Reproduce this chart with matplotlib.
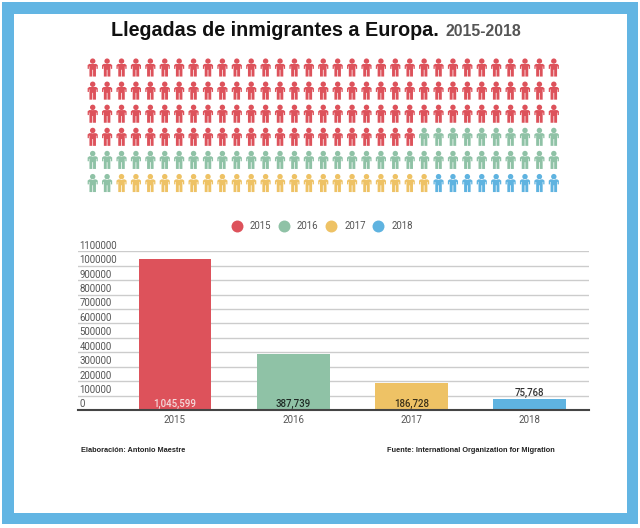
import matplotlib
matplotlib.use("Agg")
import matplotlib.pyplot as plt
import numpy as np
from matplotlib.lines import Line2D
from matplotlib.patches import Rectangle
from matplotlib.path import Path

years = ["2015", "2016", "2017", "2018"]
arrivals = [1045599, 387739, 186728, 75768]
arrival_labels = ["1,045,599", "387,739", "186,728", "75,768"]
people = [122, 45, 22, 9]
colors = ["#DD525B", "#8FC2A6", "#EEC265", "#5FB3E0"]
label_colors = ["#F4DADB", "#1F2B25", "#3A3018", "#333333"]
y_ticks = [0, 100000, 200000, 300000, 400000, 500000, 600000, 700000, 800000,
           900000, 1000000, 1100000]

W, H = 640, 528
fig = plt.figure(figsize=(W / 100, H / 100), dpi=100, facecolor="white")

# page layer in pixel coordinates
page = fig.add_axes([0, 0, 1, 1])
page.set_xlim(0, W)
page.set_ylim(H, 0)
page.axis("off")
page.add_patch(Rectangle((2, 2), 636, 522, fc="#62B5E3", ec="none"))
page.add_patch(Rectangle((14, 14), 613, 499, fc="white", ec="none"))

page.text(111, 31, "Llegadas de inmigrantes a Europa.", family="Liberation Sans",
          weight="bold", fontsize=14.25, color="#111111", va="center")
page.text(445, 31.5, "2015-2018", family="Liberation Sans", weight="bold",
          fontsize=11.4, color="#555555", va="center")
page.text(81, 451, "Elaboración: Antonio Maestre", family="Liberation Sans",
          weight="bold", fontsize=5.3, color="#222222", va="center")
page.text(387, 451, "Fuente: International Organization for Migration",
          family="Liberation Sans", weight="bold", fontsize=5.27, color="#222222",
          va="center")

# person marker
head = Path.unit_circle().transformed(
    matplotlib.transforms.Affine2D().scale(0.3).translate(0, 0.7))
body = Path([(-0.38, 0.4), (0.38, 0.4), (0.56, 0.26), (0.56, -0.15), (0.42, -0.15),
             (0.42, 0.12), (0.36, 0.12), (0.36, -1), (0.04, -1), (0.04, -0.25),
             (-0.04, -0.25), (-0.04, -1), (-0.36, -1), (-0.36, 0.12), (-0.42, 0.12),
             (-0.42, -0.15), (-0.56, -0.15), (-0.56, 0.26), (-0.38, 0.4)])
person = Path.make_compound_path(head, body)

rows, cols = np.divmod(np.arange(sum(people)), 33)
page.scatter(92.7 + 14.41 * cols, 67.5 + 23.1 * rows, marker=person, s=170,
             c=np.repeat(colors, people), linewidths=0)

# bars
ax = fig.add_axes([78 / W, 1 - 410 / H, (589 - 78) / W, (410 - 251.3) / H])
ax.patch.set_alpha(0)
ax.set_xlim(-0.82, 3.5)
ax.set_ylim(0, 1100000)
for side in ["top", "left", "right"]:
    ax.spines[side].set_visible(False)
ax.spines["bottom"].set_color("#444444")
ax.spines["bottom"].set_linewidth(1.5)
ax.set_yticks(y_ticks)
ax.set_yticklabels([])
ax.tick_params(axis="y", length=0)
ax.tick_params(axis="x", length=0, pad=3.5, labelsize=7, labelcolor="#555555")
ax.grid(axis="y", color="#CCCCCC", lw=1)
ax.set_axisbelow(True)
ax.bar(range(4), arrivals, width=0.617, color=colors, tick_label=years)
for label in ax.get_xticklabels():
    label.set_family("Roboto")

for tick in y_ticks:
    ax.annotate(str(tick), (0, tick), xycoords=ax.get_yaxis_transform(),
                xytext=(1, 0.4), textcoords="offset points", family="Roboto",
                fontsize=6.9, color="#555555", va="bottom")

for i, text in enumerate(arrival_labels):
    base = arrivals[i] if i == 3 else 0
    ax.annotate(text, (i, base), xytext=(0, 1), textcoords="offset points",
                ha="center", va="bottom", family="Roboto", weight="medium",
                fontsize=6.9, color=label_colors[i])

handles = [Line2D([], [], marker="o", ls="none", ms=8.6, color=c, mew=0) for c in colors]
leg = fig.legend(handles, years, loc="center", bbox_to_anchor=(320 / W, 1 - 226 / H),
                 ncol=4, frameon=False, handletextpad=0.35, columnspacing=0.32,
                 prop={"family": "Roboto", "size": 6.9}, labelcolor="#555555")

fig.savefig("out.png", dpi=100)
